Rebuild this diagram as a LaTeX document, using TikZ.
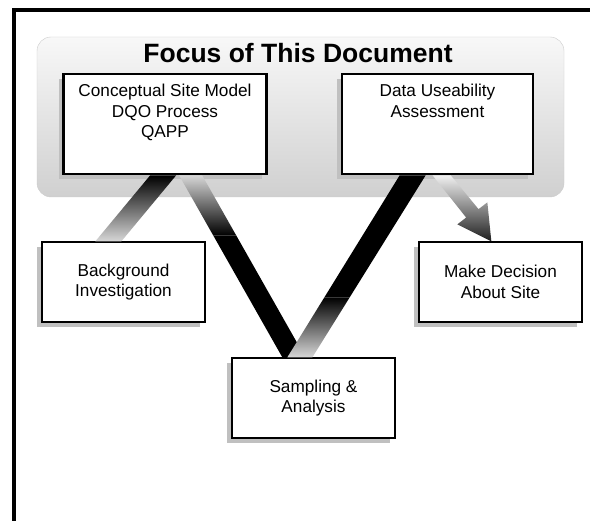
\documentclass[tikz,border=0pt]{standalone}
\usepackage{fontspec}
\setmainfont{Liberation Sans}
\usetikzlibrary{calc, shadows}

\definecolor{focus_top}{RGB}{248, 248, 248}
\definecolor{focus_bot}{RGB}{208, 208, 208}
\definecolor{band_light}{RGB}{215, 215, 215}
\definecolor{arrow_light}{RGB}{240, 240, 240}
\definecolor{arrow_dark}{RGB}{30, 30, 30}
\definecolor{shadow_gray}{RGB}{192, 192, 192}

\tikzset{
  boxtext/.style={font=\fontsize{17.2}{20.5}\selectfont},
  stepbox/.style={draw, fill=white, line width=1.3pt, inner sep=0pt,
    minimum width=163pt, minimum height=80pt, align=center, boxtext,
    general shadow={fill=shadow_gray, shadow xshift=-5pt, shadow yshift=-5pt}},
  focusbox/.style={stepbox, line width=2.7pt, minimum height=100pt},
}

\begin{document}
\begin{tikzpicture}[x=1pt, y=-1pt]
  \useasboundingbox (0,0) rectangle (590,521);
  \fill[white] (0,0) rectangle (590,521);
  \draw[line width=3.3pt] (14,521) |- (590,10);

  % focus area
  \shade[top color=focus_top, bottom color=focus_bot, draw=black!20, rounded corners=14pt]
    (37,37) rectangle (564,197);
  \node[font=\bfseries\fontsize{26.5}{30}\selectfont] (title) at (298,53)
    {Focus of This Document};

  % boxes
  \node[focusbox, minimum width=203pt] (csm) at (165,124)
    {\parbox[c][100pt][t]{203pt}{\centering\rule{0pt}{23pt}Conceptual Site Model\\DQO Process\\QAPP}};
  \node[focusbox, minimum width=191pt] (dua) at (437.5,124)
    {\parbox[c][100pt][t]{191pt}{\centering\rule{0pt}{23pt}Data Useability\\Assessment}};
  \node[stepbox] (bkg) at (123.5,282) {Background\\Investigation};
  \node[stepbox] (smp) at (313.5,398) {Sampling \&\\Analysis};
  \node[stepbox] (mkd) at (500.5,282) {Make Decision\\About Site};

  % band ends
  \coordinate (b1a) at ($(csm.south west)+(88,0)$);
  \coordinate (b1b) at ($(csm.south west)+(114,0)$);
  \coordinate (b1c) at ($(bkg.north west)+(80,0)$);
  \coordinate (b1d) at ($(bkg.north west)+(54,0)$);
  \coordinate (b2a) at ($(csm.south west)+(117,0)$);
  \coordinate (b2b) at ($(csm.south west)+(140,0)$);
  \coordinate (b2c) at ($(smp.north west)+(74,0)$);
  \coordinate (b2d) at ($(smp.north west)+(51,0)$);
  \coordinate (b3a) at ($(dua.south west)+(59,0)$);
  \coordinate (b3b) at ($(dua.south west)+(85,0)$);
  \coordinate (b3c) at ($(smp.north west)+(81,0)$);
  \coordinate (b3d) at ($(smp.north west)+(56,0)$);
  \coordinate (tip) at ($(mkd.north west)+(73,0)$);

  % csm -> bkg
  \shade[top color=black, bottom color=band_light] (b1a) -- (b1b) -- (b1c) -- (b1d) -- cycle;
  % csm -> smp
  \shade[top color=band_light, bottom color=black]
    (b2a) -- (b2b) -- ($(b2b)!0.33!(b2c)$) -- ($(b2a)!0.33!(b2d)$) -- cycle;
  \fill[black] ($(b2a)!0.33!(b2d)$) -- ($(b2b)!0.33!(b2c)$) -- (b2c) -- (b2d) -- cycle;
  % smp -> dua
  \fill[black] (b3a) -- (b3b) -- ($(b3b)!0.67!(b3c)$) -- ($(b3a)!0.67!(b3d)$) -- cycle;
  \shade[top color=black, bottom color=band_light]
    ($(b3a)!0.67!(b3d)$) -- ($(b3b)!0.67!(b3c)$) -- (b3c) -- (b3d) -- cycle;
  % dua -> mkd
  \shade[top color=arrow_light, bottom color=arrow_dark]
    ($(dua.south west)+(92,0)$) -- ($(dua.south west)+(110,0)$)
    -- ($(tip)+(-12.8,-32.2)$) -- ($(tip)+(-4,-39)$) -- (tip)
    -- ($(tip)+(-34,-17)$) -- ($(tip)+(-25.2,-23.8)$) -- cycle;
\end{tikzpicture}
\end{document}
